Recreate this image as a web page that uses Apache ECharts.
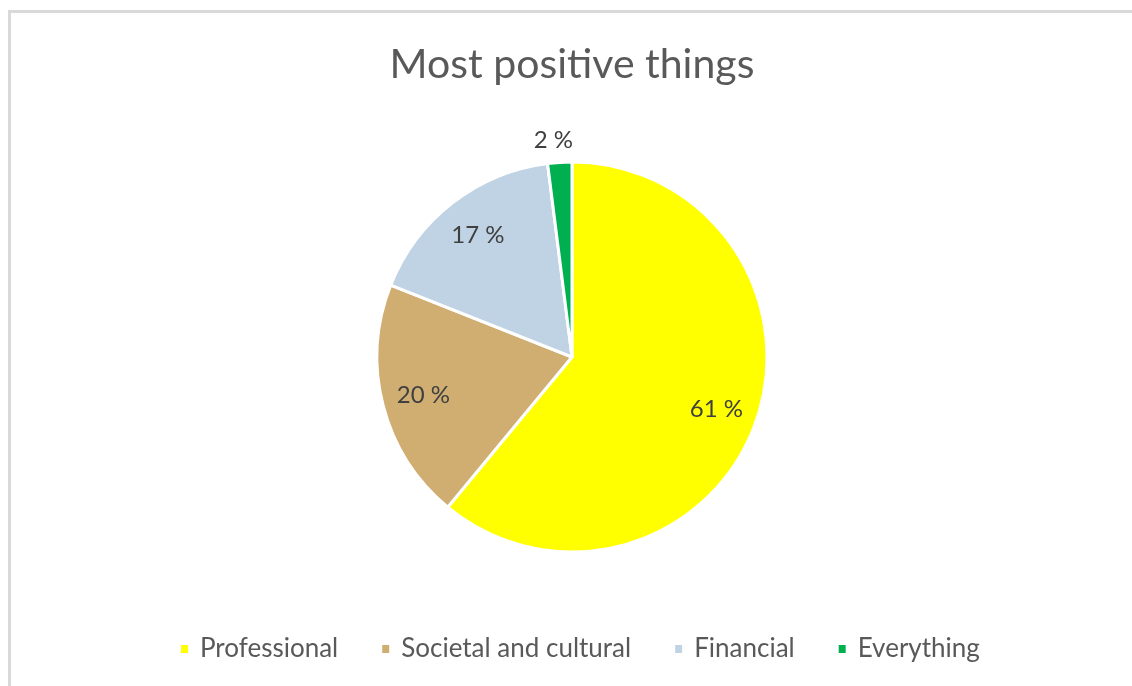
<!DOCTYPE html>
<html>
<head>
<meta charset="utf-8">
<script src="https://cdn.jsdelivr.net/npm/echarts@6/dist/echarts.min.js"></script>
<style>html,body{margin:0;padding:0;background:#fff}#c{width:1132px;height:686px}</style>
</head>
<body>
<div id="c"></div>
<script>
const titleText = 'Most positive things';
const categories = ['Professional', 'Societal and cultural', 'Financial', 'Everything'];
const values = [61, 20, 17, 2];
const colors = ['#FFFF00', '#D0AE72', '#C0D3E4', '#00B050'];

const FONT = 'Lato';
const cx = 572, cy = 357, R = 195;
const legendFont = 26, legendGap = 42, iconW = 9, iconH = 10, textPadL = 6;

// compute legend width so it can be centered on the chart frame centre
const ctx = document.createElement('canvas').getContext('2d');
ctx.font = legendFont + 'px ' + FONT;
let legendW = 0;
categories.forEach((c, i) => { legendW += iconW + 5 + textPadL + ctx.measureText(c).width + (i ? legendGap : 0); });

const pieData = categories.map((name, i) => ({ name, value: values[i], itemStyle: { color: colors[i] } }));
const labelData = categories.map((name, i) => {
  const d = { name, value: values[i] };
  if (i === 3) {
    d.label = { position: 'outside' };
    d.labelLine = { show: false, length: 22, length2: 0 };
  }
  return d;
});

const chart = echarts.init(document.getElementById('c'), null, { renderer: 'canvas' });
chart.setOption({
  backgroundColor: '#fff',
  animation: false,
  title: {
    text: titleText, padding: 0,
    left: cx, top: 44, textAlign: 'center',
    textStyle: { fontFamily: FONT, fontSize: 41, fontWeight: 'normal', color: '#595959' }
  },
  legend: {
    top: 636, left: Math.round(cx + 5 - legendW / 2), padding: 0,
    data: categories,
    icon: 'rect', itemWidth: iconW, itemHeight: iconH, itemGap: legendGap,
    textStyle: { fontFamily: FONT, fontSize: legendFont, color: '#595959', padding: [0, 0, 0, textPadL] },
    selectedMode: false
  },
  graphic: [{
    type: 'rect', silent: true,
    shape: { x: 9.5, y: 11.5, width: 1300, height: 1000 },
    style: { fill: 'none', stroke: '#d9d9d9', lineWidth: 3 }
  }],
  series: [
    {
      type: 'pie', center: [cx, cy], radius: [0, R], startAngle: 90, clockwise: true,
      data: pieData, label: { show: false }, labelLine: { show: false },
      itemStyle: { borderColor: '#fff', borderWidth: 3 }, emphasis: { disabled: true }, silent: true
    },
    {
      type: 'pie', center: [cx, cy], radius: [106, R], startAngle: 90, clockwise: true,
      data: labelData, silent: true, emphasis: { disabled: true },
      itemStyle: { color: 'rgba(0,0,0,0)' },
      label: { show: true, position: 'inside', formatter: p => p.value + ' %', fontFamily: FONT, fontSize: 24, color: '#404040' },
      labelLine: { show: false },
      labelLayout: p => (p.dataIndex === 3 ? { align: 'center' } : {})
    }
  ]
});
</script>
</body>
</html>
